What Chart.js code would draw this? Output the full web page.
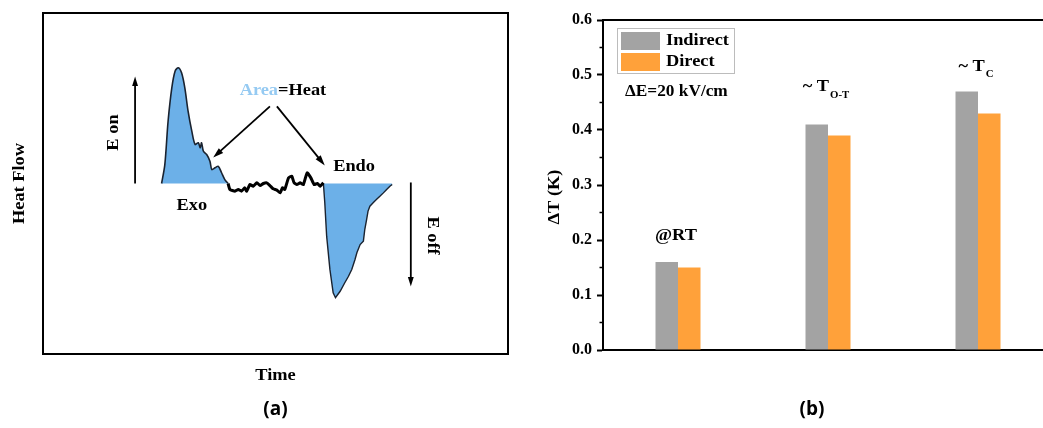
<!DOCTYPE html>
<html>
<head>
<meta charset="utf-8">
<script src="https://cdn.jsdelivr.net/npm/chart.js@4"></script>
<style>
html, body { margin: 0; padding: 0; background: #fff; overflow: hidden; width: 1043px; height: 428px; }
#wrapA { position: absolute; left: 0; top: 0; width: 520px; height: 428px; }
#wrapB { position: absolute; left: 540px; top: 0; width: 540px; height: 428px; }
</style>
</head>
<body>
<div id="wrapA"><canvas id="heatChart" width="520" height="428"></canvas></div>
<div id="wrapB"><canvas id="barChart" width="540" height="428"></canvas></div>
<script>
// ---- panel (a) : heat flow vs time (arbitrary units) ----
var exoTime = [25.5, 26.2, 26.9, 27.7, 28.4, 29.1, 29.8, 30.5, 31.2, 32.0, 32.7, 33.4, 33.8, 34.1, 34.5, 35.2, 35.9, 36.3, 37.0, 37.7, 38.4, 39.1, 39.8];
var exoFlow = [0, 11.1, 36.5, 56.1, 65.9, 67.9, 64.9, 56.1, 42.4, 30.7, 22.9, 23.9, 20.9, 23.9, 18.9, 17.0, 13.1, 8.2, 9.2, 10.1, 6.3, 2.3, 0];

var baseTime = [39.8, 40.2, 41.3, 42.0, 42.7, 43.4, 43.8, 44.5, 45.2, 46.0, 46.7, 47.4, 48.1, 48.8, 49.5, 50.3, 51.0, 51.5, 52.0, 52.8, 53.5, 54.0, 54.6, 55.3, 56.0, 56.8, 57.6, 58.3, 59.0, 59.6, 60.3];
var baseFlow = [0, -3.5, -4.5, -3.5, -4.5, -2.5, -4.5, -0.6, -1.6, 0.4, -1.2, 0, 0.4, -1.2, -3.1, -3.9, -5.5, -2.5, -3.5, 3.3, 4.3, 0.4, -0.6, 0.4, -0.6, 6.3, 3.3, -0.6, 0, -1.6, 0.4];

var endoTime = [60.3, 60.6, 61.0, 61.7, 62.4, 62.9, 63.9, 64.9, 65.7, 66.4, 67.1, 67.5, 68.2, 68.9, 69.2, 69.6, 69.9, 70.3, 71.0, 71.7, 72.5, 73.2, 73.9, 74.6, 75.1];
var endoFlow = [0, -11.3, -30.9, -50.4, -64.1, -67.0, -63.2, -58.2, -54.4, -50.4, -44.6, -40.6, -35.8, -33.8, -27.0, -21.1, -16.2, -13.3, -11.3, -9.4, -7.4, -5.5, -3.5, -1.6, -0.6];

// ---- panel (b) : ΔT bars ----
var categories = ['@RT', '~ T_O-T', '~ T_C'];
var indirect = [0.16, 0.41, 0.47];
var direct = [0.15, 0.39, 0.43];
var yTicks = [0.0, 0.1, 0.2, 0.3, 0.4, 0.5, 0.6];

var SERIF = '"Liberation Serif", "DejaVu Serif", serif';
var blueFill = '#6cb0e8';

function pts(xs, ys) {
    return xs.map(function (x, i) { return { x: x, y: ys[i] }; });
}

// bold serif text, a bit wider than normal like the scanned figure
function text(ctx, s, x, y, size, rot, color, align) {
    ctx.save();
    ctx.translate(x, y);
    ctx.rotate(rot || 0);
    ctx.scale(1.08, 1);
    ctx.font = 'bold ' + size + 'px ' + SERIF;
    ctx.fillStyle = color || '#000';
    ctx.textAlign = align || 'center';
    ctx.textBaseline = 'middle';
    ctx.fillText(s, 0, 0);
    ctx.restore();
}

function arrow(ctx, x1, y1, x2, y2, head, w) {
    var ang = Math.atan2(y2 - y1, x2 - x1);
    ctx.lineWidth = w;
    ctx.beginPath();
    ctx.moveTo(x1, y1);
    ctx.lineTo(x2 - head * 0.8 * Math.cos(ang), y2 - head * 0.8 * Math.sin(ang));
    ctx.stroke();
    ctx.beginPath();
    ctx.moveTo(x2, y2);
    ctx.lineTo(x2 - head * Math.cos(ang - 0.3), y2 - head * Math.sin(ang - 0.3));
    ctx.lineTo(x2 - head * Math.cos(ang + 0.3), y2 - head * Math.sin(ang + 0.3));
    ctx.closePath();
    ctx.fill();
}

// frame, arrows and words of the schematic
var heatDecor = {
    id: 'heatDecor',
    afterDraw: function (chart) {
        var ctx = chart.ctx, a = chart.chartArea;
        var sx = chart.scales.x, sy = chart.scales.y;
        var X = function (v) { return sx.getPixelForValue(v); };
        var Y = function (v) { return sy.getPixelForValue(v); };
        ctx.save();
        ctx.strokeStyle = '#000';
        ctx.fillStyle = '#000';
        ctx.lineWidth = 2;
        ctx.strokeRect(a.left, a.top, a.right - a.left, a.bottom - a.top);

        arrow(ctx, X(19.8), Y(0), X(19.8), Y(62.8), 10, 1.8);
        arrow(ctx, X(79.1), Y(0.6), X(79.1), Y(-60.4), 10, 1.8);
        arrow(ctx, X(48.8), Y(45.2), X(36.6), Y(15.2), 11, 1.8);
        arrow(ctx, X(50.3), Y(45.2), X(60.6), Y(10.6), 11, 1.8);

        text(ctx, 'E on', X(15.1), Y(29.9), 17, -Math.PI / 2);
        text(ctx, 'E off', X(83.7), Y(-30.5), 17, Math.PI / 2);
        text(ctx, 'Endo', X(66.9), Y(10.0), 17);
        text(ctx, 'Exo', X(32.0), Y(-12.9), 17);

        // "Area" in blue, "=Heat" in black
        ctx.font = 'bold 17px ' + SERIF;
        var w1 = ctx.measureText('Area').width * 1.08, w2 = ctx.measureText('=Heat').width * 1.08;
        var x0 = X(51.6) - (w1 + w2) / 2;
        text(ctx, 'Area', x0, Y(54.5), 17, 0, '#95caf2', 'left');
        text(ctx, '=Heat', x0 + w1, Y(54.5), 17, 0, '#000', 'left');

        text(ctx, 'Heat Flow', a.left - 23, (a.top + a.bottom) / 2, 17, -Math.PI / 2);
        text(ctx, 'Time', (a.left + a.right) / 2, a.bottom + 22, 17);
        ctx.font = 'bold 19px "Open Sans", sans-serif';
        ctx.textAlign = 'center';
        ctx.textBaseline = 'middle';
        ctx.fillText('(a)', (a.left + a.right) / 2, 410);
        ctx.restore();
    }
};

new Chart(document.getElementById('heatChart'), {
    type: 'line',
    data: {
        datasets: [
            { data: pts(exoTime, exoFlow), borderColor: '#1a2330', borderWidth: 1.6, backgroundColor: blueFill, fill: 'origin', tension: 0.3, pointRadius: 0 },
            { data: pts(baseTime, baseFlow), borderColor: '#000', borderWidth: 3, fill: false, tension: 0.15, pointRadius: 0 },
            { data: pts(endoTime, endoFlow), borderColor: '#1a2330', borderWidth: 1.4, backgroundColor: blueFill, fill: 'origin', tension: 0, pointRadius: 0 }
        ]
    },
    options: {
        responsive: false,
        animation: false,
        layout: { padding: { left: 43, right: 12, top: 13, bottom: 74 } },
        scales: {
            x: { type: 'linear', min: 0, max: 100, display: false },
            y: { type: 'linear', min: -100, max: 100, display: false }
        },
        plugins: { legend: { display: false }, tooltip: { enabled: false } }
    },
    plugins: [heatDecor]
});

// legend, notes, minor ticks and labels of the bar chart
var barDecor = {
    id: 'barDecor',
    afterDraw: function (chart) {
        var ctx = chart.ctx, a = chart.chartArea;
        var sx = chart.scales.x, sy = chart.scales.y;
        ctx.save();
        ctx.strokeStyle = '#000';
        ctx.lineWidth = 2;
        ctx.beginPath();
        ctx.moveTo(a.left, a.top);
        ctx.lineTo(a.right, a.top);
        ctx.stroke();
        ctx.lineWidth = 1.5;
        for (var i = 0; i < yTicks.length - 1; i++) {
            var py = sy.getPixelForValue((yTicks[i] + yTicks[i + 1]) / 2);
            ctx.beginPath();
            ctx.moveTo(a.left - 3.5, py);
            ctx.lineTo(a.left, py);
            ctx.stroke();
        }

        // legend
        var lx = a.left + 14, ly = a.top + 8;
        ctx.strokeStyle = '#bcbcbc';
        ctx.lineWidth = 1;
        ctx.strokeRect(lx + 0.5, ly + 0.5, 117, 45);
        chart.data.datasets.forEach(function (ds, k) {
            ctx.fillStyle = ds.backgroundColor;
            ctx.fillRect(lx + 4, ly + 4 + k * 21, 39, 18);
            text(ctx, ds.label, lx + 49, ly + 13 + k * 21, 17, 0, '#000', 'left');
        });
        text(ctx, 'ΔE=20 kV/cm', a.left + 22, a.top + 72, 16, 0, '#000', 'left');

        // category names above bars, "_" marks a subscript
        var labelAt = [0.208, 0.478, 0.515];
        categories.forEach(function (c, k) {
            var parts = c.split('_');
            var cx = sx.getPixelForValue(k) - 2;
            var cy = sy.getPixelForValue(labelAt[k]);
            ctx.font = 'bold 17px ' + SERIF;
            var w1 = ctx.measureText(parts[0]).width * 1.08;
            var w2 = 0;
            if (parts[1]) { ctx.font = 'bold 10px ' + SERIF; w2 = ctx.measureText(parts[1]).width * 1.08 + 1; }
            var x0 = cx - (w1 + w2) / 2;
            text(ctx, parts[0], x0, cy, 17, 0, '#000', 'left');
            if (parts[1]) text(ctx, parts[1], x0 + w1 + 1, cy + 8, 10, 0, '#000', 'left');
        });

        text(ctx, 'ΔT (K)', 15, 197, 17, -Math.PI / 2);
        ctx.font = 'bold 19px "Open Sans", sans-serif';
        ctx.fillStyle = '#000';
        ctx.textAlign = 'center';
        ctx.textBaseline = 'middle';
        ctx.fillText('(b)', 272, 410);
        ctx.restore();
    }
};

new Chart(document.getElementById('barChart'), {
    type: 'bar',
    data: {
        labels: categories,
        datasets: [
            { label: 'Indirect', data: indirect, backgroundColor: '#a3a3a3', barPercentage: 1, categoryPercentage: 0.3 },
            { label: 'Direct', data: direct, backgroundColor: '#ffa13a', barPercentage: 1, categoryPercentage: 0.3 }
        ]
    },
    options: {
        responsive: false,
        animation: false,
        layout: { padding: { left: 0, right: 27, top: 20, bottom: 0 } },
        scales: {
            x: {
                grid: { display: false },
                ticks: { display: false },
                border: { display: true, color: '#000', width: 2 },
                afterFit: function (scale) { scale.height = 78; }
            },
            y: {
                min: 0,
                max: 0.6,
                afterBuildTicks: function (scale) {
                    scale.ticks = yTicks.map(function (v) { return { value: v }; });
                },
                ticks: {
                    color: '#000',
                    padding: 5,
                    font: { family: SERIF, weight: 'bold', size: 16 },
                    callback: function (v) { return v.toFixed(1); }
                },
                grid: { display: true, drawOnChartArea: false, drawTicks: true, tickLength: 6, tickWidth: 2, tickColor: '#000' },
                border: { display: true, color: '#000', width: 2 },
                afterFit: function (scale) { scale.width = 63; }
            }
        },
        plugins: { legend: { display: false }, tooltip: { enabled: false } }
    },
    plugins: [barDecor]
});
</script>
</body>
</html>
